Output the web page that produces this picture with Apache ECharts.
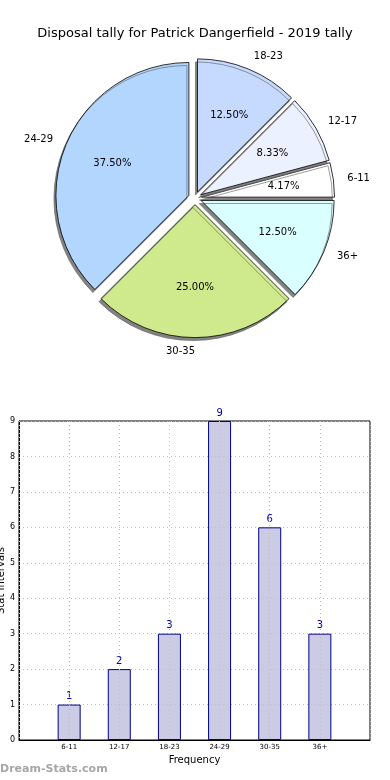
<!DOCTYPE html>
<html>
<head>
<meta charset="utf-8">
<script src="https://cdn.jsdelivr.net/npm/echarts@6/dist/echarts.min.js"></script>
<style>
html,body{margin:0;padding:0;background:#fff;}
#chart{width:390px;height:780px;}
</style>
</head>
<body>
<div id="chart"></div>
<script>
var titleText = 'Disposal tally for Patrick Dangerfield - 2019 tally';
var categories = ['6-11', '12-17', '18-23', '24-29', '30-35', '36+'];
var counts = [1, 2, 3, 9, 6, 3];
var sliceColors = ['#ffffff', '#ebf1ff', '#c6d9ff', '#b3d6ff', '#cfe98d', '#d9ffff'];
var yTicks = [0, 1, 2, 3, 4, 5, 6, 7, 8, 9];

var total = counts.reduce(function (a, b) { return a + b; }, 0);
var FONT = 'DejaVu Sans';
var R = 133;
var OFF = 6.6;

var pieData = categories.map(function (c, i) {
  return { name: c, value: counts[i], selected: true, itemStyle: { color: sliceColors[i] } };
});
var pieOverlay = categories.map(function (c, i) {
  return { name: c, value: counts[i], selected: true };
});
var barData = categories.map(function (c, i) { return [i + 1, counts[i]]; });

var chart = echarts.init(document.getElementById('chart'), null, { renderer: 'canvas' });
chart.setOption({
  animation: false,
  backgroundColor: '#ffffff',
  title: {
    text: titleText, left: 'center', top: 22,
    textStyle: { fontFamily: FONT, fontSize: 13, fontWeight: 'normal', color: '#000' }
  },
  grid: {
    left: 19, right: 20, top: 421, bottom: 40,
    outerBoundsMode: 'none', containLabel: false,
    show: true, borderColor: '#000', borderWidth: 1, backgroundColor: 'transparent'
  },
  xAxis: {
    type: 'value', min: 0, max: 7, interval: 1, z: 3,
    name: 'Frequency', nameLocation: 'middle', nameGap: 15, nameMoveOverlap: false,
    nameTextStyle: { fontFamily: FONT, fontSize: 10, color: '#000' },
    axisLine: { show: true, lineStyle: { color: '#000' } },
    axisTick: { show: false },
    axisLabel: {
      fontFamily: FONT, fontSize: 7, color: '#000', margin: 4,
      formatter: function (v) { return (v >= 1 && v <= categories.length) ? categories[v - 1] : ''; }
    },
    splitLine: { show: true, lineStyle: { color: '#bdbdbd', type: [1, 3], width: 1 } }
  },
  yAxis: {
    type: 'value', min: 0, max: 9, interval: 1,
    name: 'Stat Intervals', nameLocation: 'middle', nameGap: 13, nameMoveOverlap: false,
    nameTextStyle: { fontFamily: FONT, fontSize: 10, color: '#000' },
    axisLine: { show: true, lineStyle: { color: '#000' } },
    axisTick: { show: false },
    axisLabel: {
      fontFamily: FONT, fontSize: 8, color: '#000', margin: 4,
      formatter: function (v) { return yTicks.indexOf(v) >= 0 ? String(v) : ''; }
    },
    splitLine: { show: true, lineStyle: { color: '#bdbdbd', type: [1, 3], width: 1 } }
  },
  graphic: [{
    type: 'text', left: 0, top: 764,
    style: { text: 'Dream-Stats.com', fill: '#a6a6a6', font: 'bold 11px "DejaVu Sans"' }
  }],
  series: [
    {
      type: 'pie', center: [195, 198], radius: [0, R],
      startAngle: 0, clockwise: false,
      selectedMode: 'multiple', selectedOffset: OFF,
      avoidLabelOverlap: false, silent: true,
      itemStyle: {
        borderColor: '#000', borderWidth: 0.8,
        shadowColor: 'rgba(90,90,90,0.75)', shadowBlur: 0, shadowOffsetX: -2, shadowOffsetY: 3
      },
      label: {
        show: true, position: 'outside', fontFamily: FONT, fontSize: 10, color: '#000',
        distanceToLabelLine: 0, formatter: '{b}'
      },
      labelLine: { show: false, length: 14, length2: 0 },
      emphasis: { disabled: true },
      data: pieData
    },
    {
      type: 'pie', center: [195, 198], radius: [0, R * 1.2],
      startAngle: 0, clockwise: false,
      selectedMode: 'multiple', selectedOffset: OFF,
      avoidLabelOverlap: false, silent: true, z: 3,
      itemStyle: { color: 'rgba(0,0,0,0)', borderWidth: 0 },
      label: {
        show: true, position: 'inside', fontFamily: FONT, fontSize: 10, color: '#000',
        formatter: function (p) { return (p.value / total * 100).toFixed(2) + '%'; }
      },
      labelLine: { show: false },
      emphasis: { disabled: true },
      data: pieOverlay
    },
    {
      type: 'bar', data: barData, barWidth: 23,
      itemStyle: { color: 'rgba(190,190,220,0.8)', borderColor: '#00008b', borderWidth: 1 },
      label: { show: true, position: 'top', distance: 3, fontFamily: FONT, fontSize: 10, color: '#0000aa' }
    }
  ]
});
</script>
</body>
</html>
